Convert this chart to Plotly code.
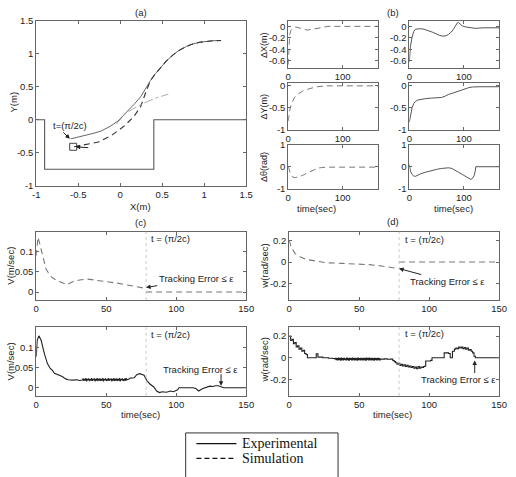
import numpy as np
import plotly.graph_objects as go

W, H = 516, 477

# ---------------- data ----------------
# (a) workspace boundary and paths
wall_x = [-1, -0.9, -0.9, 0.4, 0.4, 1.5]
wall_y = [0, 0, -0.75, -0.75, 0, 0]
exp_path_x = [-0.59, -0.5, -0.415, -0.3, -0.221, -0.12, -0.027, 0.089, 0.17, 0.244, 0.30, 0.360, 0.42, 0.477, 0.55, 0.632, 0.70, 0.787, 0.86, 0.942, 1.02, 1.097, 1.2]
exp_path_y = [-0.29, -0.265, -0.24, -0.2, -0.167, -0.1, -0.02, 0.128, 0.24, 0.349, 0.47, 0.593, 0.70, 0.789, 0.89, 0.985, 1.05, 1.108, 1.145, 1.172, 1.188, 1.195, 1.2]
sim_path_x = [-0.55, -0.415, -0.26, -0.105, 0.05, 0.166, 0.244, 0.30, 0.360, 0.42, 0.477, 0.55, 0.632, 0.70, 0.787, 0.86, 0.942, 1.02, 1.097, 1.2]
sim_path_y = [-0.41, -0.378, -0.338, -0.24, -0.093, 0.054, 0.2, 0.4, 0.593, 0.70, 0.789, 0.89, 0.985, 1.05, 1.108, 1.145, 1.172, 1.188, 1.195, 1.2]
ref_path_x = [-0.05, 0.07, 0.2, 0.322, 0.45, 0.573]
ref_path_y = [-0.07, 0.10, 0.2, 0.275, 0.34, 0.387]
start_x = [-0.56]
start_y = [-0.41]

# (b) errors
t_dx_sim = [0, 1.5, 2.5, 5, 7.7, 10, 13.7, 20, 25.6, 34.5, 46, 61, 73, 90, 165]
dx_sim = [-0.67, -0.4, -0.15, -0.07, -0.046, -0.02, -0.01, -0.03, -0.05, -0.065, -0.048, -0.02, 0.0, 0.0, 0.0]
t_dx_exp = [0, 2, 5, 8, 11, 16, 21, 27, 34, 42, 49, 56, 62, 67, 72, 77, 81, 85, 88, 90, 93, 97, 103, 109, 115, 122, 128, 135, 165]
dx_exp = [-0.62, -0.35, -0.19, -0.09, -0.05, -0.04, -0.04, -0.05, -0.07, -0.1, -0.13, -0.16, -0.17, -0.165, -0.14, -0.1, -0.05, 0.02, 0.06, 0.07, 0.04, 0.01, -0.01, -0.02, -0.03, -0.035, -0.03, -0.025, -0.025]
t_dy_sim = [0, 2, 5, 8, 11, 15, 20, 26, 32, 39, 46, 53, 61, 70, 80, 165]
dy_sim = [-0.8, -0.6, -0.45, -0.35, -0.28, -0.22, -0.175, -0.13, -0.1, -0.07, -0.05, -0.03, -0.015, -0.01, -0.01, -0.01]
t_dy_exp = [0, 2, 5, 8, 11, 15, 21, 30, 40, 50, 59, 66, 72, 78, 84, 90, 97, 103, 109, 116, 122, 130, 165]
dy_exp = [-0.82, -0.65, -0.5, -0.41, -0.36, -0.33, -0.31, -0.295, -0.285, -0.28, -0.27, -0.24, -0.2, -0.18, -0.155, -0.14, -0.1, -0.07, -0.05, -0.035, -0.03, -0.03, -0.03]
t_dth_sim = [0, 2, 5, 8, 11, 14, 20, 26, 32, 38, 44, 49, 55, 61, 70, 165]
dth_sim = [0, -0.2, -0.38, -0.46, -0.5, -0.49, -0.45, -0.4, -0.32, -0.25, -0.17, -0.1, -0.06, -0.04, -0.02, -0.02]
t_dth_exp = [0, 2, 5, 8, 11, 16, 21, 30, 40, 50, 59, 66, 72, 78, 84, 90, 97, 101, 104, 108, 113, 117, 119, 121, 122, 165]
dth_exp = [0.1, -0.2, -0.35, -0.42, -0.44, -0.38, -0.32, -0.25, -0.17, -0.12, -0.08, -0.06, -0.05, -0.08, -0.15, -0.25, -0.35, -0.4, -0.45, -0.5, -0.58, -0.5, -0.4, -0.2, 0.0, 0.0]

# (c)/(d) velocities
t_switch = 78.5
t_v_sim = [0, 1.2, 2.3, 4.7, 7, 10.5, 14, 18.6, 22, 25.6, 31, 37, 44, 51, 58, 65, 72, 78, None, 78.5, 150]
v_sim = [0.09, 0.136, 0.123, 0.09, 0.057, 0.038, 0.03, 0.023, 0.018, 0.025, 0.03, 0.032, 0.029, 0.025, 0.022, 0.0175, 0.013, 0.009, None, 0, 0]
t_w_sim = [0, 1.4, 4.2, 7.7, 12.4, 19.3, 26, 38, 47, 57, 66, 73, 78, None, 78.5, 150]
w_sim = [0.2, 0.14, 0.078, 0.048, 0.024, 0.006, -0.006, -0.012, -0.015, -0.024, -0.036, -0.048, -0.06, None, 0, 0]

t_v_exp_a = [0, 0.7, 1.9, 3.5, 5.8, 8, 10, 11.6, 13, 15, 17, 18.6, 21, 23, 26, 29, 31, 32.5]
v_exp_a = [0.077, 0.118, 0.129, 0.118, 0.085, 0.06, 0.048, 0.043, 0.036, 0.033, 0.03, 0.028, 0.022, 0.02, 0.019, 0.02, 0.018, 0.02]
t_noise = list(np.arange(33, 65.5, 0.5))
v_exp_noise = [0.019, 0.023, 0.017, 0.022, 0.018, 0.024, 0.016, 0.022, 0.019, 0.023,
               0.017, 0.021, 0.018, 0.024, 0.017, 0.022, 0.019, 0.023, 0.016, 0.022,
               0.018, 0.024, 0.017, 0.021, 0.019, 0.023, 0.017, 0.022, 0.018, 0.024,
               0.016, 0.022, 0.019, 0.023, 0.017, 0.021, 0.018, 0.024, 0.017, 0.022,
               0.019, 0.023, 0.016, 0.022, 0.018, 0.024, 0.017, 0.021, 0.019, 0.023,
               0.017, 0.022, 0.018, 0.024, 0.016, 0.022, 0.019, 0.023, 0.017, 0.021,
               0.018, 0.024, 0.017, 0.022, 0.020]
t_v_exp_b = [66, 67, 70, 72, 74, 77, 79, 81, 84, 86, 88, 90, 93, 96, 98, 101, 102, 112, 114, 116, 119, 122, 124, 126, 128, 130, 132.5, 134, 150]
v_exp_b = [0.021, 0.024, 0.025, 0.033, 0.035, 0.031, 0.018, 0.01, 0.002, -0.008, -0.012, -0.01, -0.011, -0.008, -0.01, -0.005, 0.0, 0.0, -0.002, -0.008, -0.002, 0.002, 0.004, 0.003, 0.005, 0.005, 0.003, 0.0, 0.0]

t_w_exp_a = [0, 1, 2, 3, 4, 5, 6, 7, 8, 9, 10, 11, 12, 13, 18, 19.3, 20.5, 24, 28, 31, 32.5]
w_exp_a = [0.2, 0.16, 0.17, 0.13, 0.14, 0.1, 0.11, 0.08, 0.09, 0.06, 0.07, 0.04, 0.03, 0.0, 0.0, 0.036, 0.006, 0.0, -0.004, -0.006, -0.01]
w_exp_noise = [-0.004, -0.018, -0.006, -0.02, -0.003, -0.016, -0.008, -0.021, -0.002, -0.017,
               -0.007, -0.019, -0.004, -0.015, -0.009, -0.02, -0.003, -0.018, -0.006, -0.021,
               -0.005, -0.016, -0.008, -0.019, -0.002, -0.017, -0.007, -0.02, -0.004, -0.018,
               -0.006, -0.021, -0.003, -0.016, -0.008, -0.019, -0.005, -0.017, -0.007, -0.02,
               -0.004, -0.018, -0.006, -0.021, -0.003, -0.016, -0.008, -0.019, -0.002, -0.017,
               -0.007, -0.02, -0.004, -0.018, -0.006, -0.021, -0.005, -0.016, -0.008, -0.019,
               -0.004, -0.017, -0.007, -0.02, -0.012]
t_w_exp_b = [66, 68, 70, 72, 74, 75, 76, 77, 78, 79, 80, 81, 82, 83, 84, 85, 86, 87, 88, 89,
             90, 91, 92, 93, 94, 95, 96, 97, 97.5, 98, 101, 102, 110, 110.7, 113.8, 115, 116.6, 118, 119, 120,
             121, 122, 123, 124, 125, 126, 127, 128, 129, 130, 131, 132, 133, 150]
w_exp_b = [-0.012, -0.01, -0.014, -0.012, -0.025, -0.035, -0.045, -0.06, -0.05, -0.07,
           -0.06, -0.075, -0.065, -0.08, -0.07, -0.085, -0.075, -0.09, -0.08, -0.095,
           -0.085, -0.1, -0.08, -0.095, -0.085, -0.09, -0.08, -0.075, -0.03, -0.03,
           -0.024, 0.0, 0.0, 0.045, 0.04, 0.0, 0.06, 0.08, 0.09, 0.085,
           0.1, 0.09, 0.1, 0.085, 0.095, 0.08, 0.09, 0.07, 0.075, 0.06,
           0.045, 0.015, 0.0, 0.0]

t_v_exp = t_v_exp_a + t_noise + t_v_exp_b
v_exp = v_exp_a + v_exp_noise + v_exp_b
t_w_exp = t_w_exp_a + t_noise + t_w_exp_b
w_exp = w_exp_a + w_exp_noise + w_exp_b

# ---------------- layout helpers ----------------
def PX(x):
    return x / W

def PY(y):
    return 1 - y / H

FONT = "Liberation Sans, Arial, sans-serif"
TXT = "#222"
AXC = "#666"

fig = go.Figure()

def add(n, x, y, color, dash="solid", width=1.0, shape="linear", name=None):
    fig.add_trace(go.Scatter(x=x, y=y, mode="lines", xaxis=f"x{n}", yaxis=f"y{n}",
                             line=dict(color=color, dash=dash, width=width, shape=shape),
                             showlegend=False, name=name, hoverinfo="skip"))

DASH = "6px,4px"
# (a)
add(1, wall_x, wall_y, "#555", width=1.1)
add(1, exp_path_x, exp_path_y, "#666", width=1.0, name="Experimental")
add(1, sim_path_x, sim_path_y, "#333", dash=DASH, width=1.1, name="Simulation")
add(1, ref_path_x, ref_path_y, "#aaa", dash="dashdot", width=1.0)
fig.add_trace(go.Scatter(x=start_x, y=start_y, mode="markers", xaxis="x1", yaxis="y1",
                         marker=dict(symbol="square-open", size=7, color="#444", line=dict(width=1)),
                         showlegend=False, hoverinfo="skip"))
# (b)
add(2, t_dx_sim, dx_sim, "#777", dash=DASH)
add(3, t_dx_exp, dx_exp, "#555")
add(4, t_dy_sim, dy_sim, "#777", dash=DASH)
add(5, t_dy_exp, dy_exp, "#555")
add(6, t_dth_sim, dth_sim, "#777", dash=DASH)
add(7, t_dth_exp, dth_exp, "#555")
# (c),(d)
add(8, t_v_sim, v_sim, "#777", dash=DASH, width=1.1)
add(9, t_w_sim, w_sim, "#777", dash=DASH, width=1.1)
add(10, t_v_exp, v_exp, "#222", width=1.1)
add(11, t_w_exp, w_exp, "#222", width=1.1, shape="hv")

# axes definitions: n -> (x px range, y px range, xrange, yrange, xticks, yticks)
axes = {
    1: ((33, 248), (15, 184), [-1, 1.5], [-1, 1.5], [-1, -0.5, 0, 0.5, 1, 1.5], [-1, -0.5, 0, 0.5, 1, 1.5]),
    2: ((291, 383), (15, 63), [0, 165], [-0.72, 0.1], [0, 100], [0, -0.2, -0.4, -0.6]),
    3: ((415, 507), (15, 63), [0, 165], [-0.72, 0.1], [0, 100], [0, -0.2, -0.4, -0.6]),
    4: ((291, 383), (79, 127), [0, 165], [-1, 0.05], [0, 100], [0, -0.5, -1]),
    5: ((415, 507), (79, 127), [0, 165], [-1, 0.05], [0, 100], [0, -0.5, -1]),
    6: ((291, 383), (142, 187), [0, 165], [-1, 1], [0, 100], [1, 0, -1]),
    7: ((415, 507), (142, 187), [0, 165], [-1, 1], [0, 100], [1, 0, -1]),
    8: ((33, 248), (231, 301), [0, 150], [-0.02, 0.15], [0, 50, 100, 150], [0, 0.05, 0.1]),
    9: ((292, 507), (231, 301), [0, 150], [-0.35, 0.28], [0, 50, 100, 150], [-0.2, 0, 0.2]),
    10: ((33, 248), (329, 399), [0, 150], [-0.02, 0.15], [0, 50, 100, 150], [0, 0.05, 0.1]),
    11: ((292, 507), (329, 399), [0, 150], [-0.35, 0.28], [0, 50, 100, 150], [-0.2, 0, 0.2]),
}

common = dict(showline=True, linecolor=AXC, linewidth=1, mirror="ticks", ticks="inside",
              ticklen=3, tickcolor=AXC, showgrid=False, zeroline=False,
              tickfont=dict(family=FONT, size=9.5, color=TXT))
layout = {}
for n, (xp, yp, xr, yr, xt, yt) in axes.items():
    layout[f"xaxis{n}"] = dict(common, domain=[PX(xp[0]), PX(xp[1])], range=xr, anchor=f"y{n}",
                               tickvals=xt, ticktext=[f"{v:g}" for v in xt])
    layout[f"yaxis{n}"] = dict(common, domain=[PY(yp[1]), PY(yp[0])], range=yr, anchor=f"x{n}",
                               tickvals=yt, ticktext=[f"{v:g}" for v in yt])

fig.update_layout(width=W, height=H, margin=dict(l=0, r=0, t=0, b=0),
                  paper_bgcolor="white", plot_bgcolor="white",
                  font=dict(family=FONT, size=9.5, color=TXT), **layout)

# vertical dotted lines at switching time
for n in (8, 9, 10, 11):
    fig.add_shape(type="line", xref=f"x{n}", yref=f"y{n} domain", x0=t_switch, x1=t_switch,
                  y0=0, y1=1, line=dict(color="#bbb", width=0.8, dash="dot"))

ann = []
def ptext(x, y, text, angle=0, size=9.5, anchor="center"):
    ann.append(dict(x=PX(x), y=PY(y), xref="paper", yref="paper", text=text, showarrow=False,
                    textangle=angle, xanchor=anchor, yanchor="middle",
                    font=dict(family=FONT, size=size, color=TXT)))

# titles
ptext(140, 7, "(a)")
ptext(398, 7, "(b)")
ptext(140, 222, "(c)")
ptext(398, 221, "(d)")
# axis labels
ptext(10, 98, "Y(m)", angle=-90)
ptext(140, 205, "X(m)")
ptext(266, 40, "ΔX(m)", angle=-90, size=9)
ptext(266, 103, "ΔY(m)", angle=-90, size=9)
ptext(266, 165, "Δθ(rad)", angle=-90, size=9)
ptext(320, 207, "time(sec)")
ptext(460, 207, "time(sec)")
ptext(7, 266, "V(m/sec)", angle=-90)
ptext(7, 364, "V(m/sec)", angle=-90)
ptext(267, 266, "w(rad/sec)", angle=-90)
ptext(267, 362, "w(rad/sec)", angle=-90)
ptext(140, 418, "time(sec)")
ptext(398, 418, "time(sec)")

def dtext(n, x, y, text, anchor="left"):
    ann.append(dict(x=x, y=y, xref=f"x{n}", yref=f"y{n}", text=text, showarrow=False,
                    xanchor=anchor, yanchor="middle", font=dict(family=FONT, size=9.5, color=TXT)))

def darrow(n, x, y, ax, ay, text=""):
    ann.append(dict(x=x, y=y, xref=f"x{n}", yref=f"y{n}", text=text, showarrow=True,
                    ax=ax, ay=ay, arrowhead=2, arrowsize=0.9, arrowwidth=1, arrowcolor="#222",
                    font=dict(family=FONT, size=9.5, color=TXT)))

TE = "Tracking Error ≤ ε"
T0 = "t = (π/2c)"
# (a)
dtext(1, -0.83, -0.09, "t=(π/2c)")
darrow(1, -0.6, -0.29, -8, -8)
darrow(1, -0.53, -0.41, 14, 1)
# (c) top
dtext(8, 80.5, 0.132, T0)
darrow(8, t_switch, 0.011, 50, -9, TE)
# (d) top
dtext(9, 81, 0.21, T0)
darrow(9, t_switch, -0.06, 48, 13, TE)
# (c) bottom
dtext(10, 80.5, 0.133, T0)
dtext(10, 117, 0.046, TE, anchor="center")
darrow(10, 132, 0.005, 0, -13)
# (d) bottom
dtext(11, 81, 0.22, T0)
dtext(11, 121, -0.2, TE, anchor="center")
darrow(11, 132.5, -0.025, 0, 14)

# legend box (drawn)
fig.add_shape(type="rect", xref="paper", yref="paper", x0=PX(186), x1=PX(342), y0=PY(483), y1=PY(437),
              line=dict(color="#333", width=1), fillcolor="white")
fig.add_shape(type="line", xref="paper", yref="paper", x0=PX(197), x1=PX(238), y0=PY(448), y1=PY(448),
              line=dict(color="#111", width=1.2))
fig.add_shape(type="line", xref="paper", yref="paper", x0=PX(197), x1=PX(238), y0=PY(463), y1=PY(463),
              line=dict(color="#111", width=1.2, dash="5px,3px"))
for yy, label in ((448, "Experimental"), (463, "Simulation")):
    ann.append(dict(x=PX(242), y=PY(yy), xref="paper", yref="paper", text=label, showarrow=False,
                    xanchor="left", yanchor="middle",
                    font=dict(family="Liberation Serif, Times New Roman, serif", size=14, color="#111")))

fig.update_layout(annotations=ann)
fig.write_html("out.html")
